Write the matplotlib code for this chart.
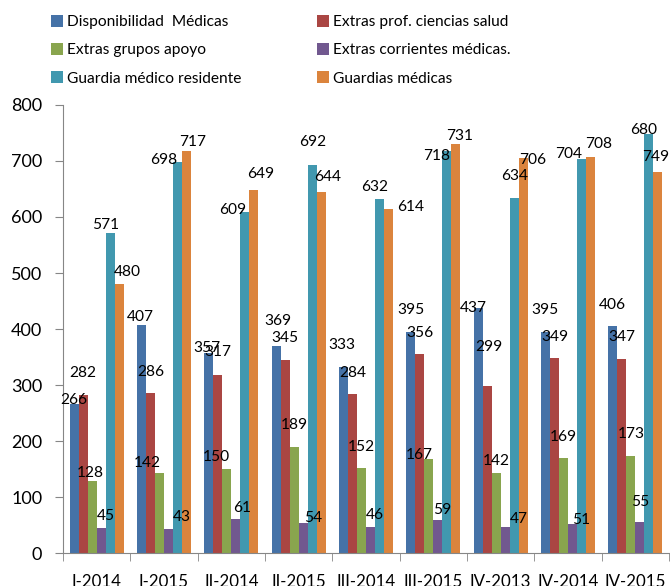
"""
Grouped bar chart of medical staff overtime by quarter.
"""
import matplotlib
matplotlib.use("Agg")
import matplotlib.pyplot as plt
import numpy as np

plt.rcParams["font.family"] = ["Lato", "DejaVu Sans"]

categories = ["I-2014", "I-2015", "II-2014", "II-2015", "III-2014",
              "III-2015", "IV-2013", "IV-2014", "IV-2015"]

series_names = ["Disponibilidad  Médicas", "Extras prof. ciencias salud",
                "Extras grupos apoyo", "Extras corrientes médicas.",
                "Guardia médico residente", "Guardias médicas"]

disponibilidad = [266, 407, 357, 369, 333, 395, 437, 395, 406]
extras_prof = [282, 286, 317, 345, 284, 356, 299, 349, 347]
extras_apoyo = [128, 142, 150, 189, 152, 167, 142, 169, 173]
extras_corrientes = [45, 43, 61, 54, 46, 59, 47, 51, 55]
guardia_residente = [571, 698, 609, 692, 632, 718, 634, 704, 749]
guardias_medicas = [480, 717, 649, 644, 614, 731, 706, 708, 680]

# label texts as printed on the original chart (the last two are swapped there)
labels_residente = [571, 698, 609, 692, 632, 718, 634, 704, 680]
labels_guardias = [480, 717, 649, 644, 614, 731, 706, 708, 749]

colors = ["#4572A7", "#AA4643", "#89A54E", "#71588F", "#4198AF", "#DB843D"]

# label nudges in pixels (dx, dy) from the bar top, per series
label_offsets = [
    [(0, 4), (-1, 8), (-2, 5), (2, 25), (-2, 22), (0, 22), (-5, 0), (0, 22), (0, 21)],
    [(0, 22), (0, 21), (0, 23), (0, 22), (0, 21), (0, 21), (2, 39), (0, 21), (0, 22)],
    [(-2, 8), (-12, 10), (-10, 12), (0, 22), (0, 21), (-10, 4), (0, 12), (0, 21), (0, 22)],
    [(5, 12), (13, 12), (6, 11), (10, 5), (4, 12), (4, 10), (14, 8), (9, 4), (0, 20)],
    [(-5, 8), (-14, 2), (-12, 2), (0, 23), (-5, 12), (-10, -5), (0, 22), (-13, 5), (-5, 4)],
    [(8, 12), (6, 9), (7, 16), (6, 15), (22, 2), (4, 8), (9, -2), (8, 13), (-2, 15)],
]

values = [disponibilidad, extras_prof, extras_apoyo, extras_corrientes,
          guardia_residente, guardias_medicas]
texts = [disponibilidad, extras_prof, extras_apoyo, extras_corrientes,
         labels_residente, labels_guardias]

fig = plt.figure(figsize=(6.7, 5.86), dpi=100)
ax = fig.add_axes([63 / 670, 33 / 586, 606 / 670, 448 / 586])

x = np.arange(len(categories))
width = 0.134
handles = []
for j, (vals, name, color) in enumerate(zip(values, series_names, colors)):
    pos = x + (j - 2.5) * width
    bars = ax.bar(pos, vals, width, color=color, label=name, zorder=2)
    handles.append(bars)
    for k, (px, v) in enumerate(zip(pos, vals)):
        dx, dy = label_offsets[j][k]
        ax.annotate(str(texts[j][k]), (px, v), xytext=(dx, dy),
                    textcoords="offset pixels", ha="center", va="center",
                    fontsize=11.2, color="black")

ax.set_xlim(-0.5, len(categories) - 0.5)
ax.set_ylim(0, 800)
ax.set_yticks(range(0, 801, 100))
ax.set_xticks(x)
ax.set_xticklabels(categories)
ax.set_xticks(np.arange(-0.5, len(categories), 1), minor=True)
ax.tick_params(axis="x", which="major", length=0, pad=15, labelsize=12.2)
ax.tick_params(axis="x", which="minor", length=6, color="#868686")
ax.tick_params(axis="y", length=6, color="#868686", pad=9, labelsize=13)

for side in ["top", "right"]:
    ax.spines[side].set_visible(False)
for side in ["left", "bottom"]:
    ax.spines[side].set_color("#868686")

order = [0, 2, 4, 1, 3, 5]
fig.legend([handles[i] for i in order], [series_names[i] for i in order],
           loc="upper left", bbox_to_anchor=(45 / 670, 1 - 9 / 586),
           ncol=2, frameon=False, fontsize=11.2, handlelength=0.75,
           handleheight=0.75, handletextpad=0.25, columnspacing=4.9,
           labelspacing=0.9, borderaxespad=0)

fig.savefig("out.png", dpi=100)
